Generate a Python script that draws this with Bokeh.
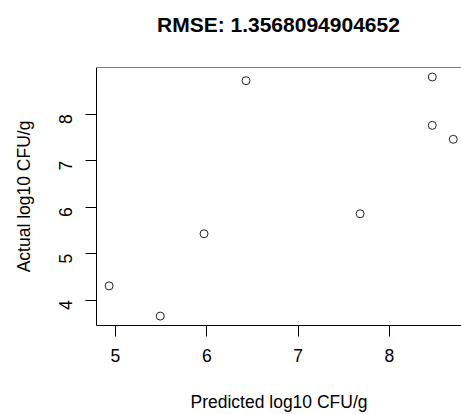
import math
from bokeh.plotting import figure
from bokeh.models import Range1d, FixedTicker, Span, Div
from bokeh.layouts import column
from bokeh.embed import file_html
from bokeh.resources import INLINE

predicted = [4.93, 5.49, 5.97, 6.43, 7.68, 8.47, 8.47, 8.70]
actual = [4.31, 3.66, 5.43, 8.72, 5.86, 8.80, 7.76, 7.46]
x_ticks = [5, 6, 7, 8]
y_ticks = [4, 5, 6, 7, 8]
title_text = "RMSE: 1.3568094904652"
x_label = "Predicted log10 CFU/g"
y_label = "Actual log10 CFU/g"

FONT = "Liberation Sans"
Y_END = 9.004

title_div = Div(text=title_text, width=461, height=40, margin=0,
                styles={"font-family": FONT, "font-size": "21px", "font-weight": "bold",
                        "color": "black", "line-height": "21px", "padding-top": "14px",
                        "padding-left": "157px", "box-sizing": "border-box",
                        "background-color": "white", "white-space": "nowrap"})

p = figure(width=461, height=374, output_backend="svg", toolbar_location=None,
           x_range=Range1d(4.792, 8.790), y_range=Range1d(3.458, Y_END),
           min_border_left=96, min_border_right=0, min_border_top=27, min_border_bottom=88,
           margin=0)

p.scatter(predicted, actual, marker="circle", size=8, fill_color=None,
          line_color="#222222", line_width=1)

p.grid.visible = False
p.outline_line_color = None
p.background_fill_color = "white"
p.border_fill_color = "white"
p.add_layout(Span(location=Y_END, dimension="width", line_color="black", line_width=1))

for ax in (p.xaxis[0], p.yaxis[0]):
    ax.axis_line_color = "black"
    ax.major_tick_line_color = "black"
    ax.major_tick_out = 11
    ax.major_tick_in = 0
    ax.minor_tick_line_color = None
    ax.major_label_text_font = FONT
    ax.major_label_text_font_size = "17.5px"
    ax.major_label_text_color = "black"
    ax.axis_label_text_font = FONT
    ax.axis_label_text_font_size = "17.5px"
    ax.axis_label_text_font_style = "normal"
    ax.axis_label_text_color = "black"

p.xaxis.ticker = FixedTicker(ticks=x_ticks)
p.yaxis.ticker = FixedTicker(ticks=y_ticks)
p.xaxis.axis_label = x_label
p.yaxis.axis_label = y_label
p.yaxis.major_label_orientation = math.pi / 2
p.xaxis.major_label_standoff = 12
p.yaxis.major_label_standoff = 20
p.xaxis.axis_label_standoff = 27
p.yaxis.axis_label_standoff = 16

layout = column(title_div, p, spacing=0, margin=0)
open("out.html", "w").write(file_html(layout, INLINE))
